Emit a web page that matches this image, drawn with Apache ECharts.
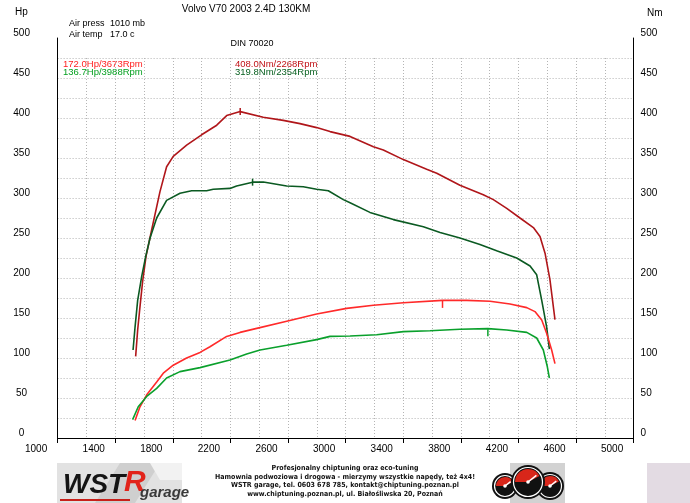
<!DOCTYPE html>
<html>
<head>
<meta charset="utf-8">
<title>Volvo V70 2003 2.4D 130KM</title>
<script src="https://cdn.jsdelivr.net/npm/echarts@6/dist/echarts.min.js"></script>
<style>
  html, body { margin: 0; padding: 0; background: #fff; }
  #main { width: 690px; height: 503px; }
</style>
</head>
<body>
<div id="main"></div>
<script>
var hpRedRpm = [1538, 1572, 1619, 1688, 1734, 1803, 1896, 1989, 2058, 2174, 2267, 2383, 2591, 2799, 3007, 3193, 3401, 3673, 3841, 4003, 4142, 4258, 4315, 4362, 4396, 4431, 4454];
var hpRedVal = [22, 39, 54, 70, 81, 91, 100, 107, 114, 127, 132, 137, 146, 155, 162, 166, 169, 172, 172, 171, 167.5, 163, 158, 147.5, 131, 110, 93];

var hpGreenRpm = [1521, 1560, 1619, 1688, 1757, 1850, 1989, 2197, 2313, 2406, 2591, 2799, 2892, 3031, 3216, 3401, 3586, 3794, 3988, 4119, 4258, 4327, 4373, 4401, 4415];
var hpGreenVal = [23, 39, 52, 62, 75, 83, 88, 97.5, 105, 110, 116, 123, 127, 127.5, 129, 133, 134, 136, 136.7, 135, 132, 125, 110, 89, 75];

var nmRedRpm = [1542, 1556, 1572, 1590, 1614, 1653, 1711, 1757, 1803, 1896, 2000, 2105, 2174, 2268, 2428, 2567, 2683, 2799, 2892, 3031, 3193, 3262, 3401, 3563, 3633, 3794, 3956, 4026, 4119, 4211, 4304, 4350, 4385, 4419, 4454];
var nmRedVal = [102, 135, 164, 195, 227, 260, 308, 339, 352, 366, 379, 391, 403, 408, 401, 397, 393, 388, 383, 377, 364, 360, 348, 336, 331, 316, 304, 298, 287, 275, 263, 252, 231, 198, 148];

var nmGreenRpm = [1524, 1538, 1556, 1584, 1612, 1642, 1688, 1757, 1850, 1931, 2035, 2081, 2197, 2243, 2354, 2429, 2591, 2706, 2799, 2880, 2984, 3031, 3169, 3332, 3540, 3656, 3794, 3933, 4049, 4188, 4281, 4327, 4362, 4396, 4415];
var nmGreenVal = [110, 139, 172, 202, 227, 250, 275, 297, 306, 309, 309, 311, 312, 315, 319.8, 320, 315, 314, 311, 309, 298, 294, 282, 273, 264, 257, 250, 242, 234, 225, 215, 204, 172, 139, 111];

// maksima: [rpm, wartosc]
var peakHpRed = [3673, 172.0];
var peakHpGreen = [3988, 136.7];
var peakNmRed = [2268, 408.0];
var peakNmGreen = [2354, 319.8];

var rpmTicks = [1000, 5000, 400];
var valTicks = [0, 500, 50];

var infoLines = ['Air press', 'Air temp'];
var infoValues = ['1010 mb', '17.0 c'];
var footerLines = [
  'Profesjonalny chiptuning oraz eco-tuning',
  'Hamownia podwoziowa i drogowa - mierzymy wszystkie napędy, też 4x4!',
  'WSTR garage, tel. 0603 678 785, kontakt@chiptuning.poznan.pl',
  'www.chiptuning.poznan.pl, ul. Białośliwska 20, Poznań'
];

var FONT = 'Liberation Sans, Arial, sans-serif';
var NARROW = 'Liberation Sans Narrow, DejaVu Sans Condensed, Liberation Sans, sans-serif';

var C_HP_RED = '#ff2a2a', C_HP_GREEN = '#0aa02c', C_NM_RED = '#b0161a', C_NM_GREEN = '#0b5a22';

function pairs(xs, ys) {
  var out = [];
  for (var i = 0; i < xs.length; i++) out.push([xs[i], ys[i]]);
  return out;
}
function fmtPeak(p, unit) {
  return p[1].toFixed(1) + unit + '/' + p[0] + 'Rpm';
}

function curve(name, xs, ys, color, peak, below) {
  return {
    name: name,
    type: 'line',
    xAxisIndex: 0,
    yAxisIndex: 0,
    data: pairs(xs, ys),
    showSymbol: false,
    smooth: false,
    silent: true,
    lineStyle: { color: color, width: 1.6 },
    z: 5,
    markPoint: {
      silent: true,
      symbol: 'rect',
      symbolSize: [1.5, 7],
      symbolOffset: [0, below ? 4 : 0],
      itemStyle: { color: color },
      label: { show: false },
      data: [{ coord: peak }]
    }
  };
}

var chart = echarts.init(document.getElementById('main'), null, { width: 690, height: 503 });

var graphics = [
  { type: 'text', x: 15, y: 12, style: { text: 'Hp', fill: '#000', font: '10px ' + FONT, verticalAlign: 'middle' } },
  { type: 'text', x: 647, y: 13, style: { text: 'Nm', fill: '#000', font: '10px ' + FONT, verticalAlign: 'middle' } },
  { type: 'text', x: 246, y: 9, style: { text: 'Volvo V70 2003 2.4D 130KM', fill: '#000', font: '10px ' + FONT, align: 'center', verticalAlign: 'middle' } },
  { type: 'text', x: 252, y: 44, style: { text: 'DIN 70020', fill: '#000', font: '9px ' + FONT, align: 'center', verticalAlign: 'middle' } },
  { type: 'text', x: 63, y: 64, style: { text: fmtPeak(peakHpRed, 'Hp'), fill: '#ff1e1e', font: '9.5px ' + FONT, verticalAlign: 'middle' } },
  { type: 'text', x: 63, y: 72, style: { text: fmtPeak(peakHpGreen, 'Hp'), fill: '#05a020', font: '9.5px ' + FONT, verticalAlign: 'middle' } },
  { type: 'text', x: 235, y: 64, style: { text: fmtPeak(peakNmRed, 'Nm'), fill: '#c01015', font: '9.5px ' + FONT, verticalAlign: 'middle' } },
  { type: 'text', x: 235, y: 72, style: { text: fmtPeak(peakNmGreen, 'Nm'), fill: '#086020', font: '9.5px ' + FONT, verticalAlign: 'middle' } }
];
for (var i = 0; i < infoLines.length; i++) {
  graphics.push({ type: 'text', x: 69, y: 24 + i * 11, style: { text: infoLines[i], fill: '#000', font: '9px ' + FONT, verticalAlign: 'middle' } });
  graphics.push({ type: 'text', x: 110, y: 24 + i * 11, style: { text: infoValues[i], fill: '#000', font: '9px ' + FONT, verticalAlign: 'middle' } });
}
for (var j = 0; j < footerLines.length; j++) {
  graphics.push({ type: 'text', x: 345, y: 468 + j * 8.7, style: { text: footerLines[j], fill: '#111', font: 'bold 7px ' + NARROW, align: 'center', verticalAlign: 'middle' } });
}

// logo WSTR garage
graphics.push(
  { type: 'rect', shape: { x: 57, y: 463, width: 125, height: 40 }, style: { fill: '#e2e2e2' } },
  { type: 'polygon', shape: { points: [[120, 463], [160, 463], [135, 503], [95, 503]] }, style: { fill: '#cfcfcf' } },
  { type: 'polygon', shape: { points: [[150, 463], [182, 463], [182, 480], [160, 480]] }, style: { fill: '#f2f2f2' } },
  { type: 'text', x: 63, y: 485, style: { text: 'WST', fill: '#141414', font: 'italic bold 28px ' + FONT, verticalAlign: 'middle' } },
  { type: 'text', x: 124, y: 483, style: { text: 'R', fill: '#e2231a', font: 'italic bold 30px ' + FONT, verticalAlign: 'middle' } },
  { type: 'text', x: 140, y: 493, style: { text: 'garage', fill: '#3a3a3a', font: 'italic bold 15px ' + FONT, verticalAlign: 'middle' } },
  { type: 'rect', shape: { x: 60, y: 499, width: 70, height: 2 }, style: { fill: '#c8201a' } }
);

// logo z zegarami
function gauge(cx, cy, r) {
  return [
    { type: 'circle', shape: { cx: cx, cy: cy, r: r }, style: { fill: '#111' } },
    { type: 'circle', shape: { cx: cx, cy: cy, r: r - 2.5 }, style: { fill: 'none', stroke: '#fff', lineWidth: 1.2 } },
    { type: 'sector', shape: { cx: cx, cy: cy, r: r - 4, startAngle: Math.PI, endAngle: Math.PI * 1.85 }, style: { fill: '#d8261a' } },
    { type: 'line', shape: { x1: cx, y1: cy, x2: cx + (r - 5) * 0.7, y2: cy - (r - 5) * 0.55 }, style: { stroke: '#fff', lineWidth: 1.5 } },
    { type: 'circle', shape: { cx: cx, cy: cy, r: 1.8 }, style: { fill: '#fff' } }
  ];
}
graphics.push({ type: 'rect', shape: { x: 510, y: 463, width: 55, height: 40 }, style: { fill: '#d2d2d2' } });
graphics = graphics.concat(gauge(505, 486, 13), gauge(550, 486, 14), gauge(528, 482, 17));
graphics.push({ type: 'rect', shape: { x: 647, y: 463, width: 43, height: 40 }, style: { fill: '#e3dbe3' } });

var gridLine = { show: true, lineStyle: { color: '#b4b4b4', type: [1, 2], width: 1 } };

var option = {
  animation: false,
  backgroundColor: '#fff',
  grid: [
    { left: 57.6, right: 56.4, top: 38, bottom: 65, containLabel: false },
    // siatka kropkowana konczy sie na 475
    { left: 57.6, right: 56.4, top: 58, bottom: 65, containLabel: false, z: 0 }
  ],
  graphic: graphics,
  xAxis: [
    {
      type: 'value', gridIndex: 0,
      min: rpmTicks[0], max: rpmTicks[1], interval: rpmTicks[2],
      axisLine: { show: true, onZero: false, lineStyle: { color: '#000', width: 1 } },
      axisTick: { show: true, length: 5, lineStyle: { color: '#000' } },
      axisLabel: {
        color: '#000', fontFamily: FONT, fontSize: 10, margin: 6, align: 'center', padding: [0, 43, 0, 0],
        showMinLabel: true, showMaxLabel: true,
        formatter: function (v) { return String(v); }
      },
      splitLine: { show: false }
    },
    {
      type: 'value', gridIndex: 1,
      min: rpmTicks[0], max: rpmTicks[1], interval: rpmTicks[2] / 2,
      axisLine: { show: false }, axisTick: { show: false }, axisLabel: { show: false },
      splitLine: gridLine
    }
  ],
  yAxis: [
    {
      type: 'value', gridIndex: 0, position: 'left',
      min: valTicks[0], max: valTicks[1], interval: valTicks[2],
      axisLine: { show: true, lineStyle: { color: '#000', width: 1 } },
      axisTick: { show: false },
      axisLabel: { color: '#000', fontFamily: FONT, fontSize: 10, margin: 36, align: 'center', verticalAlign: 'bottom' },
      splitLine: { show: false }
    },
    {
      type: 'value', gridIndex: 0, position: 'right',
      min: valTicks[0], max: valTicks[1], interval: valTicks[2],
      axisLine: { show: true, lineStyle: { color: '#000', width: 1 } },
      axisTick: { show: false },
      axisLabel: { color: '#000', fontFamily: FONT, fontSize: 10, margin: 7, align: 'left', verticalAlign: 'bottom' },
      splitLine: { show: false }
    },
    {
      type: 'value', gridIndex: 1,
      min: 0, max: 475, interval: 25,
      axisLine: { show: false }, axisTick: { show: false }, axisLabel: { show: false },
      splitLine: gridLine
    }
  ],
  series: [
    curve('Nm red', nmRedRpm, nmRedVal, C_NM_RED, peakNmRed, false),
    curve('Nm green', nmGreenRpm, nmGreenVal, C_NM_GREEN, peakNmGreen, false),
    curve('Hp red', hpRedRpm, hpRedVal, C_HP_RED, peakHpRed, true),
    curve('Hp green', hpGreenRpm, hpGreenVal, C_HP_GREEN, peakHpGreen, true)
  ]
};
chart.setOption(option);
</script>
</body>
</html>
